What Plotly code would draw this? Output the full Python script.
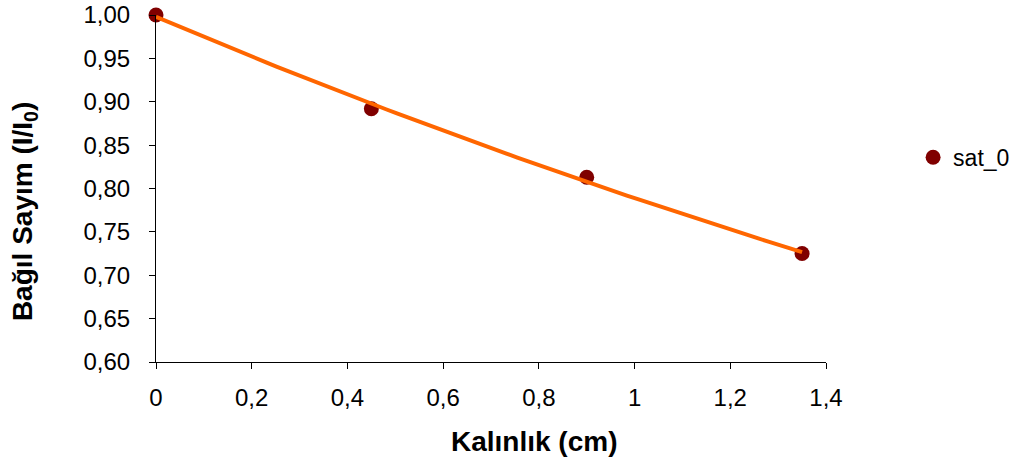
import numpy as np
import plotly.graph_objects as go

# Data
thickness = [0, 0.45, 0.9, 1.35]          # Kalınlık (cm)
rel_count = [1.00, 0.892, 0.813, 0.725]   # Bağıl Sayım (I/I0)
series_name = "sat_0"
x_ticks = [0, 0.2, 0.4, 0.6, 0.8, 1.0, 1.2, 1.4]
y_ticks = [0.60, 0.65, 0.70, 0.75, 0.80, 0.85, 0.90, 0.95, 1.00]

# Exponential trendline fitted to the data (as in a spreadsheet trendline)
b, ln_a = np.polyfit(thickness, np.log(rel_count), 1)
fit_x = np.linspace(min(thickness), max(thickness), 60)
fit_y = np.exp(ln_a) * np.exp(b * fit_x)

FONT = "Liberation Sans, Arial, sans-serif"

fig = go.Figure()
fig.add_trace(go.Scatter(
    x=thickness, y=rel_count, mode="markers", name=series_name,
    marker=dict(color="#800000", size=15, line=dict(width=0)),
    cliponaxis=False,
))
fig.add_trace(go.Scatter(
    x=fit_x, y=fit_y, mode="lines", showlegend=False,
    line=dict(color="#FF6600", width=4), cliponaxis=False, hoverinfo="skip",
))

fig.update_layout(
    width=1020, height=462,
    margin=dict(l=156, r=194, t=15, b=100, autoexpand=False),
    paper_bgcolor="white", plot_bgcolor="white",
    separators=", ",
    font=dict(family=FONT, size=24, color="black"),
    showlegend=True,
    legend=dict(x=1.13, y=0.59, xanchor="left", yanchor="middle",
                font=dict(size=23), itemwidth=30, bgcolor="rgba(0,0,0,0)",
                borderwidth=0, tracegroupgap=0),
    xaxis=dict(range=[0, 1.4], tickvals=x_ticks, automargin=False,
               showgrid=False, zeroline=False, showline=True,
               linecolor="black", linewidth=1, ticks="outside",
               ticklen=6, tickcolor="black", tickformat="~g",
               ticklabelstandoff=8),
    yaxis=dict(range=[0.6, 1.0], tickvals=y_ticks, tickformat=".2f",
               automargin=False,
               showgrid=False, zeroline=False, showline=True,
               linecolor="black", linewidth=1, ticks="outside",
               ticklen=6, tickcolor="black", ticklabelstandoff=14),
    annotations=[
        dict(text="<b>Kalınlık (cm)</b>", xref="paper", yref="paper",
             x=0.564, y=-0.228, xanchor="center", yanchor="middle",
             showarrow=False, font=dict(size=28, family=FONT)),
        dict(text="<b>Bağıl Sayım (I/I<sub>0</sub>)</b>", xref="paper", yref="paper",
             x=-0.197, y=0.432, xanchor="center", yanchor="middle", textangle=-90,
             showarrow=False, font=dict(size=28, family=FONT)),
    ],
)

fig.write_html("out.html")
